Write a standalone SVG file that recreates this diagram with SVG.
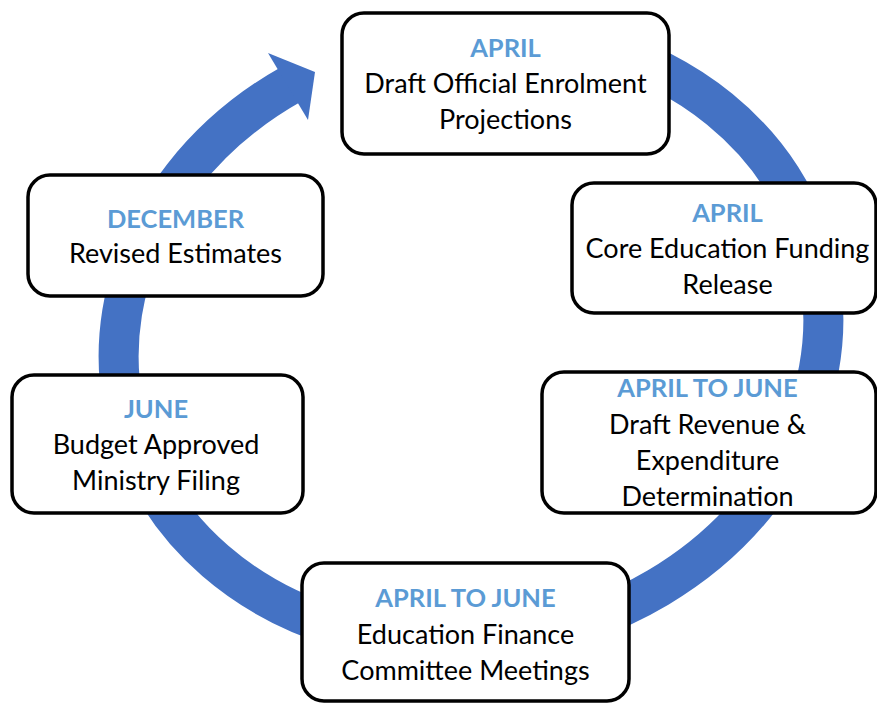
<svg xmlns="http://www.w3.org/2000/svg" width="877" height="703" viewBox="0 0 877 703">
  <style>
    .box { fill: #ffffff; stroke: #000000; stroke-width: 3.5; }
    .hd { font-family: Lato, "Open Sans", sans-serif; font-weight: 700; font-size: 25.5px; fill: #5B9BD5; text-anchor: middle; }
    .tx { font-family: Lato, "Open Sans", sans-serif; font-size: 27px; fill: #000000; text-anchor: middle; }
    .ring { fill: none; stroke: #4472C4; stroke-width: 40; }
  </style>
  <rect width="877" height="703" fill="#ffffff"/>

  <!-- clockwise cycle arrow behind the stages -->
  <g id="connectors">
    <path class="ring" d="M594.51 45.80 A354 304 -11 1 1 292.32 83.61"/>
    <polygon points="268,53 315,72 308,120" fill="#4472C4"/>
  </g>

  <g id="stage-enrolment">
    <rect class="box" x="342" y="13" width="327" height="141" rx="22"/>
    <text class="hd" x="505.5" y="57">APRIL</text>
    <text class="tx" x="505.5" y="93">Draft Official Enrolment</text>
    <text class="tx" x="505.5" y="128.5">Projections</text>
  </g>

  <g id="stage-funding">
    <rect class="box" x="572" y="183" width="304" height="130" rx="22"/>
    <text class="hd" x="727.5" y="222">APRIL</text>
    <text class="tx" x="727.5" y="258">Core Education Funding</text>
    <text class="tx" x="727.5" y="293.5">Release</text>
  </g>

  <g id="stage-revenue">
    <rect class="box" x="542" y="372" width="334" height="141" rx="22"/>
    <text class="hd" x="707.5" y="397">APRIL TO JUNE</text>
    <text class="tx" x="707.5" y="434">Draft Revenue &amp;</text>
    <text class="tx" x="707.5" y="470">Expenditure</text>
    <text class="tx" x="707.5" y="505.5">Determination</text>
  </g>

  <g id="stage-committee">
    <rect class="box" x="302" y="563" width="327" height="138" rx="22"/>
    <text class="hd" x="465.5" y="607">APRIL TO JUNE</text>
    <text class="tx" x="465.5" y="643.5">Education Finance</text>
    <text class="tx" x="465.5" y="679.5">Committee Meetings</text>
  </g>

  <g id="stage-approval">
    <rect class="box" x="12" y="375" width="291" height="138" rx="22"/>
    <text class="hd" x="156" y="417.5">JUNE</text>
    <text class="tx" x="156" y="453.5">Budget Approved</text>
    <text class="tx" x="156" y="489.5">Ministry Filing</text>
  </g>

  <g id="stage-revised">
    <rect class="box" x="28" y="175" width="295" height="121" rx="22"/>
    <text class="hd" x="175.5" y="228">DECEMBER</text>
    <text class="tx" x="175.5" y="263">Revised Estimates</text>
  </g>
</svg>
